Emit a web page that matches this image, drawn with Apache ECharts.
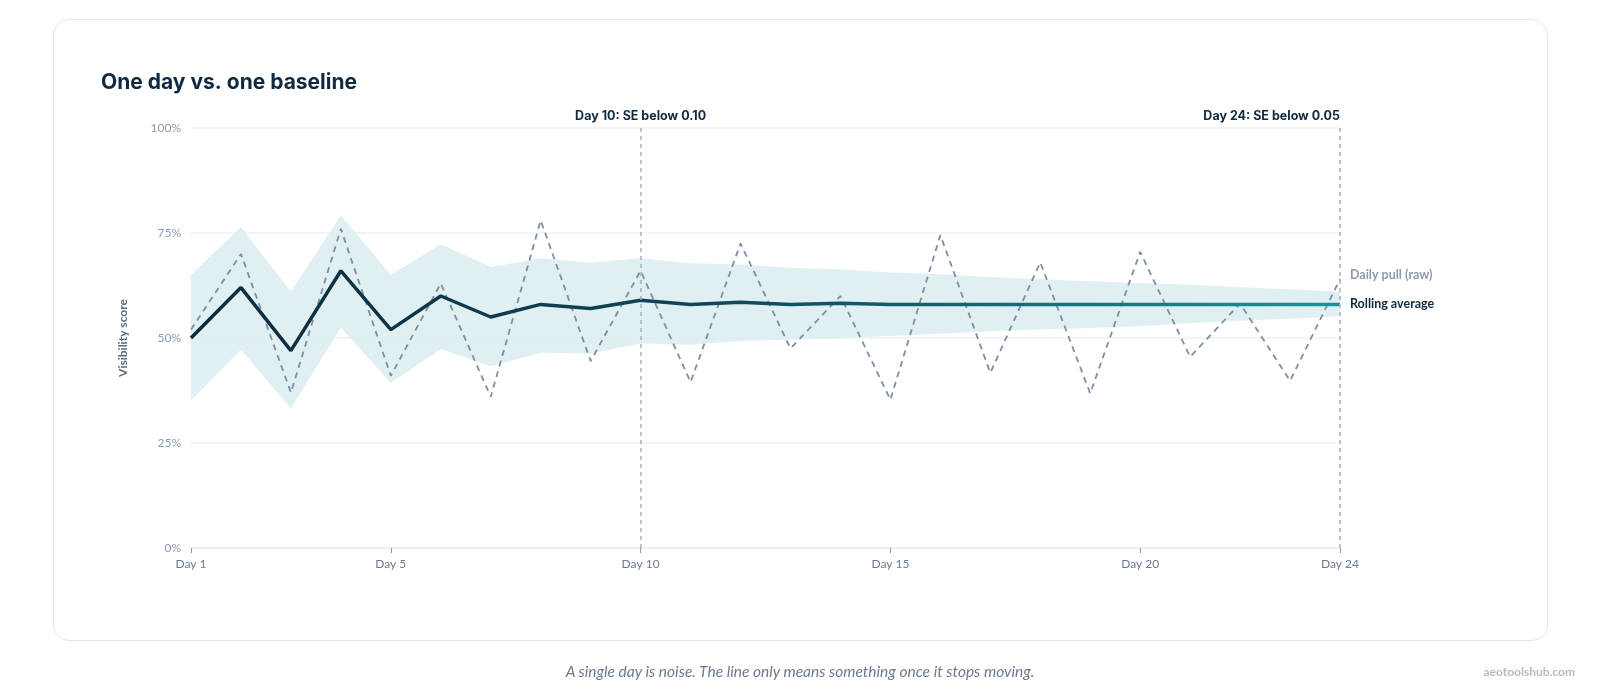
<!DOCTYPE html>
<html>
<head>
<meta charset="utf-8">
<style>
  html, body { margin: 0; padding: 0; background: #ffffff; }
  #wrap { position: relative; width: 1600px; height: 700px; overflow: hidden; }
  #card { position: absolute; left: 53px; top: 19px; width: 1495px; height: 622px;
          border: 1px solid #e3e7ec; border-radius: 16px; background: #fff; box-sizing: border-box; }
  #chart { position: absolute; left: 0; top: 0; width: 1600px; height: 700px; }
  #caption { position: absolute; left: 0; width: 1600px; top: 662px; text-align: center;
             font-family: Lato, sans-serif; font-style: italic; font-size: 15.5px; color: #6b7a8f; }
  #mark { position: absolute; right: 25px; top: 664px; font-family: Lato, sans-serif;
          font-size: 12px; font-weight: 700; color: #b3bcc8; }
</style>
</head>
<body>
<div id="wrap">
  <div id="card"></div>
  <div id="chart"></div>
  <div id="caption">A single day is noise. The line only means something once it stops moving.</div>
  <div id="mark">aeotoolshub.com</div>
</div>
<script src="https://cdn.jsdelivr.net/npm/echarts@6/dist/echarts.min.js"></script>
<script>
var days = ['Day 1','Day 2','Day 3','Day 4','Day 5','Day 6','Day 7','Day 8','Day 9','Day 10','Day 11','Day 12',
            'Day 13','Day 14','Day 15','Day 16','Day 17','Day 18','Day 19','Day 20','Day 21','Day 22','Day 23','Day 24'];
var labelDays = [0, 4, 9, 14, 19, 23];

// daily raw pull (%)
var raw = [52, 70, 37, 76, 41, 63, 36, 78, 44.5, 66, 39.5, 72.5, 47.5, 60, 35.3, 74.5, 41.7, 68, 36.8, 70.5, 45.5, 58.2, 39.8, 64];
// rolling average (%)
var rolling = [50, 62, 47, 66, 52, 60, 55, 58, 57, 59, 58, 58.5, 58, 58.3, 58, 58, 58, 58, 58, 58, 58, 58, 58, 58];
// confidence band
var bandUpper = [65, 76.4, 61, 79.2, 65, 72.3, 66.9, 69, 67.9, 69, 67.8, 67.5, 66.7, 66.3, 65.6, 65.2, 64.5, 64, 63.5, 63.1, 62.7, 62.1, 61.6, 61];
var bandLower = [35.2, 47.2, 33.2, 52.5, 39.3, 47.4, 43.3, 46.5, 46.3, 48.7, 48.4, 49.3, 49.6, 50, 50.5, 51, 51.6, 52, 52.4, 52.8, 53.6, 54.1, 54.6, 55.2];

var yTicks = [0, 25, 50, 75, 100];
var markers = [
  { day: 'Day 10', text: 'Day 10: SE below 0.10', align: 'center' },
  { day: 'Day 24', text: 'Day 24: SE below 0.05', align: 'right' }
];

var bandSpan = bandUpper.map(function (u, i) { return +(u - bandLower[i]).toFixed(2); });

var chart = echarts.init(document.getElementById('chart'));
var option = {
  animation: false,
  title: {
    text: 'One day vs. one baseline',
    left: 96, top: 67,
    textStyle: { fontFamily: 'Inter', fontWeight: 700, fontSize: 21, color: '#0f2a40' }
  },
  grid: { left: 191, right: 260, top: 128, bottom: 152 },
  xAxis: {
    type: 'category',
    data: days,
    boundaryGap: false,
    axisLine: { lineStyle: { color: '#eceff3', width: 2 } },
    axisTick: {
      show: true, length: 5,
      interval: function (i) { return labelDays.indexOf(i) >= 0; },
      lineStyle: { color: '#8c9bb0', width: 1 }
    },
    axisLabel: {
      interval: function (i) { return labelDays.indexOf(i) >= 0; },
      color: '#6b7a8f', fontFamily: 'Lato', fontSize: 12, margin: 10
    },
    splitLine: { show: false }
  },
  yAxis: {
    type: 'value',
    min: yTicks[0], max: yTicks[yTicks.length - 1], interval: 25,
    name: 'Visibility score',
    nameLocation: 'middle', nameGap: 62, nameRotate: 90,
    nameTextStyle: { color: '#5a6b80', fontFamily: 'Lato', fontWeight: 700, fontSize: 12 },
    axisLine: { show: false },
    axisTick: { show: false },
    axisLabel: { formatter: '{value}%', color: '#8c9bb0', fontFamily: 'Lato', fontSize: 12, margin: 10 },
    splitLine: { lineStyle: { color: '#eef1f4', width: 1.5 } }
  },
  series: [
    {
      name: 'lower', type: 'line', stack: 'band', data: bandLower,
      symbol: 'none', lineStyle: { opacity: 0 }, silent: true,
      markLine: {
        silent: true, symbol: 'none',
        lineStyle: { color: '#a3b0bf', type: [4, 4], width: 1.5 },
        data: markers.map(function (m) {
          return {
            xAxis: m.day,
            label: {
              show: true, position: 'end', formatter: m.text, distance: 5,
              align: m.align, color: '#0f2a40', fontFamily: 'Inter', fontWeight: 700, fontSize: 12.5
            }
          };
        })
      }
    },
    {
      name: 'band', type: 'line', stack: 'band', data: bandSpan,
      symbol: 'none', lineStyle: { opacity: 0 }, silent: true,
      areaStyle: { color: '#dcedf1', opacity: 0.9 }
    },
    {
      name: 'Daily pull (raw)', type: 'line', data: raw,
      symbol: 'none',
      lineStyle: { color: '#7d8da3', width: 1.8, type: [6, 5] },
      endLabel: {
        show: true, formatter: 'Daily pull (raw)', distance: 10, offset: [0, -4],
        color: '#8c9bb0', fontFamily: 'Lato', fontWeight: 700, fontSize: 12.5
      }
    },
    {
      name: 'Rolling average', type: 'line', data: rolling,
      symbol: 'none',
      lineStyle: {
        width: 3.5,
        color: new echarts.graphic.LinearGradient(0, 0, 1, 0, [
          { offset: 0, color: '#0d2a3d' },
          { offset: 0.45, color: '#0f4658' },
          { offset: 1, color: '#1b929b' }
        ])
      },
      endLabel: {
        show: true, formatter: 'Rolling average', distance: 10,
        color: '#0f2a40', fontFamily: 'Lato', fontWeight: 700, fontSize: 12.5
      }
    }
  ]
};
chart.setOption(option);
</script>
</body>
</html>
